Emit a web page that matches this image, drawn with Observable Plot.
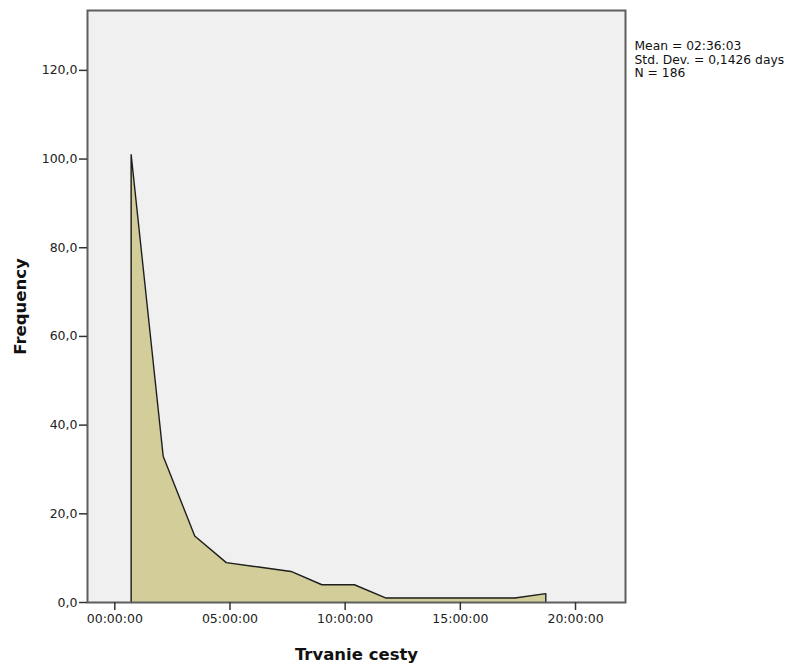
<!DOCTYPE html>
<html>
<head>
<meta charset="utf-8">
<script src="https://cdn.jsdelivr.net/npm/d3@7"></script>
<script src="https://cdn.jsdelivr.net/npm/@observablehq/plot@0.6"></script>
<style>
  html, body { margin: 0; padding: 0; background: #ffffff; }
</style>
</head>
<body>
<div id="chart"></div>
<script>
// Bin midpoints (hours) and frequencies read from the frequency polygon
const binMidHours = [0.71, 2.10, 3.47, 4.84, 6.24, 7.65, 8.99, 10.40, 11.78, 13.17, 14.56, 15.95, 17.37, 18.71];
const frequencies = [101, 33, 15, 9, 8, 7, 4, 4, 1, 1, 1, 1, 1, 2];

const xTicks = [0, 5, 10, 15, 20];
const yTicks = [0, 20, 40, 60, 80, 100, 120];
const statsLines = ["Mean = 02:36:03", "Std. Dev. = 0,1426 days", "N = 186"];
const xTitle = "Trvanie cesty";
const yTitle = "Frequency";

// closed polygon: drop to zero at first and last bin
const n = binMidHours.length;
const polygon = [
  {x: binMidHours[0], y: 0},
  ...binMidHours.map((h, i) => ({x: h, y: frequencies[i]})),
  {x: binMidHours[n - 1], y: 0}
];

const pad = v => String(v).padStart(2, "0");
const fmtTime = h => `${pad(h)}:00:00`;
const fmtNum = v => v.toFixed(1).replace(".", ",");

const chart = Plot.plot({
  width: 793,
  height: 666,
  marginLeft: 87,
  marginRight: 168,
  marginTop: 10,
  marginBottom: 64,
  style: {fontFamily: "'DejaVu Sans', sans-serif", fontSize: "12.5px", color: "#222", background: "#ffffff", overflow: "visible"},
  x: {domain: [-1.185, 22.17]},
  y: {domain: [0, 133.5]},
  marks: [
    Plot.frame({fill: "#f0f0f0", stroke: null}),
    Plot.areaY(polygon, {x: "x", y: "y", fill: "#d3ce99", curve: "linear"}),
    Plot.line(polygon, {x: "x", y: "y", stroke: "#1e1e1e", strokeWidth: 1.4, curve: "linear"}),
    Plot.frame({stroke: "#5e5e5e", strokeWidth: 2}),
    Plot.axisX({ticks: xTicks, tickFormat: fmtTime, tickSize: 8, tickPadding: 4, stroke: "#333", strokeWidth: 1.5, label: null, fill: "#222"}),
    Plot.axisY({ticks: yTicks, tickFormat: fmtNum, tickSize: 8, tickPadding: 2, stroke: "#333", strokeWidth: 1.5, label: null, fill: "#222"}),
    Plot.text([yTitle], {frameAnchor: "left", dx: -67, rotate: -90, textAnchor: "middle", lineAnchor: "middle", text: d => d, fontWeight: "bold", fontSize: 16.5, fill: "#111"}),
    Plot.text([xTitle], {frameAnchor: "bottom", dy: 52, textAnchor: "middle", lineAnchor: "middle", text: d => d, fontWeight: "bold", fontSize: 16.5, fill: "#111"}),
    Plot.text([statsLines.join("\n")], {frameAnchor: "top-right", dx: 9, dy: 30, textAnchor: "start", lineAnchor: "top", lineHeight: 1.1, fontSize: 12.3, text: d => d, fill: "#111"})
  ]
});

document.getElementById("chart").appendChild(chart);
</script>
</body>
</html>
